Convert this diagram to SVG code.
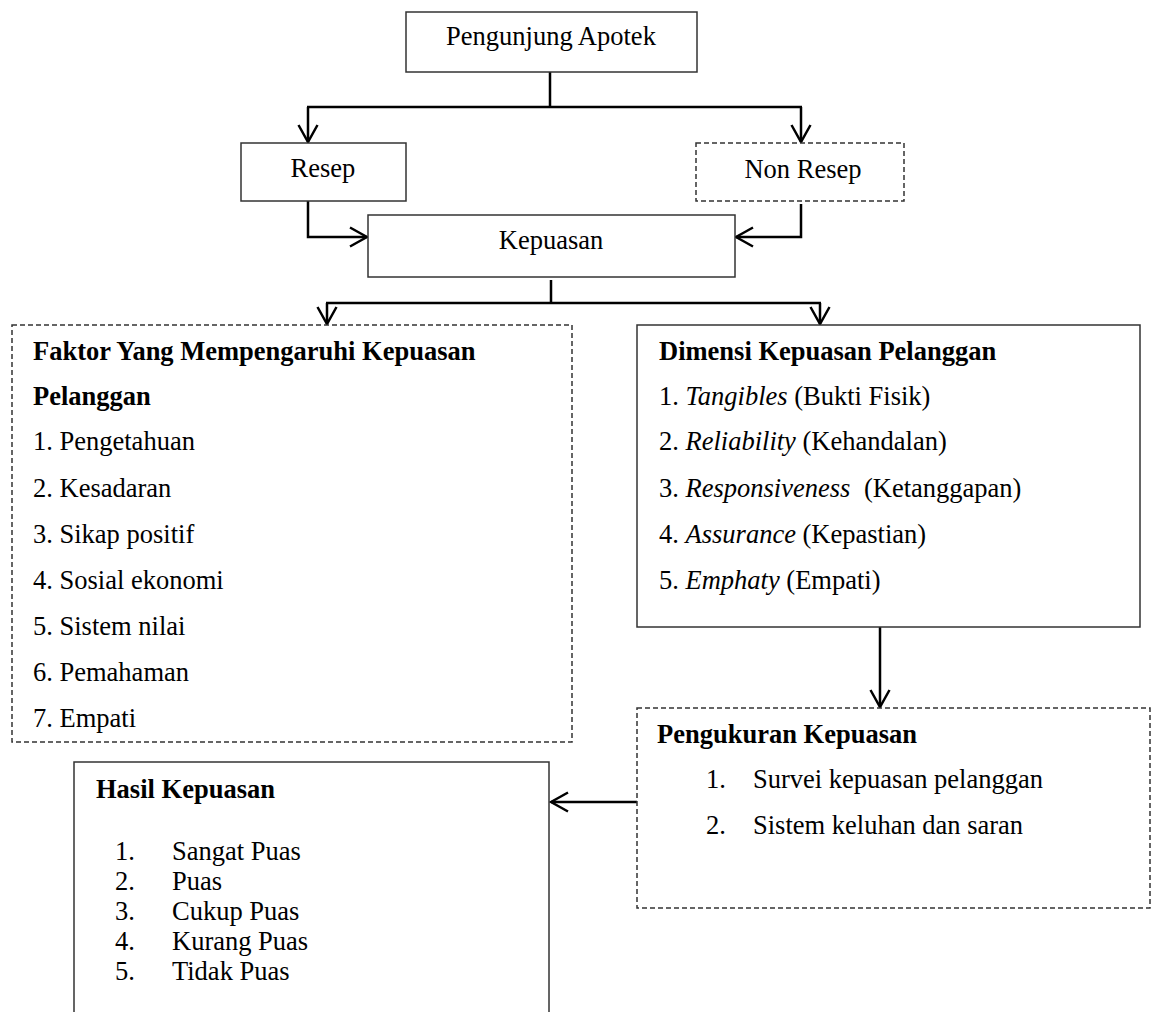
<svg xmlns="http://www.w3.org/2000/svg" width="1158" height="1012" viewBox="0 0 1158 1012">
<defs>
<style>
.box{fill:#fff;stroke:#333;stroke-width:1.5}
.dash{fill:#fff;stroke:#333;stroke-width:1.5;stroke-dasharray:5,3}
.conn{fill:none;stroke:#000;stroke-width:2.5}
text{font-family:"Liberation Serif","Times New Roman",serif;font-size:26.5px;fill:#000}
.c{text-anchor:middle}
.b{font-weight:bold}
.i{font-style:italic}
</style>
<marker id="arr" viewBox="-20 -12 22 24" markerWidth="22" markerHeight="24" refX="0" refY="0" markerUnits="userSpaceOnUse" orient="auto">
<path d="M-17,-9.5 L0,0 L-17,9.5" fill="none" stroke="#000" stroke-width="2.5"/>
</marker>
</defs>
<rect width="1158" height="1012" fill="#fff"/>
<g id="connectors">
<path class="conn" d="M550,72 V107 M307,107 H802"/>
<path class="conn" d="M308,107 V142" marker-end="url(#arr)"/>
<path class="conn" d="M801,107 V142" marker-end="url(#arr)"/>
<path class="conn" d="M308,201 V237 H367" marker-end="url(#arr)"/>
<path class="conn" d="M801,204 V237 H736" marker-end="url(#arr)"/>
<path class="conn" d="M551,280 V303 M326,303 H821"/>
<path class="conn" d="M327,303 V324" marker-end="url(#arr)"/>
<path class="conn" d="M820,303 V324" marker-end="url(#arr)"/>
<path class="conn" d="M880,627 V707" marker-end="url(#arr)"/>
<path class="conn" d="M637,802 H551" marker-end="url(#arr)"/>
</g>
<g id="pengunjung">
<rect class="box" x="406" y="12" width="291" height="60"/>
<text class="c" x="551" y="45">Pengunjung Apotek</text>
</g>
<g id="resep">
<rect class="box" x="241" y="143" width="165" height="58"/>
<text class="c" x="323" y="177">Resep</text>
</g>
<g id="nonresep">
<rect class="dash" x="696" y="143" width="208" height="58"/>
<text class="c" x="803" y="178">Non Resep</text>
</g>
<g id="kepuasan">
<rect class="box" x="368" y="215" width="367" height="62"/>
<text class="c" x="551" y="249">Kepuasan</text>
</g>
<g id="faktor">
<rect class="dash" x="12" y="325" width="560" height="417"/>
<text class="b" x="33" y="360">Faktor Yang Mempengaruhi Kepuasan</text>
<text class="b" x="33" y="405">Pelanggan</text>
<text x="33" y="450">1. Pengetahuan</text>
<text x="33" y="497">2. Kesadaran</text>
<text x="33" y="543">3. Sikap positif</text>
<text x="33" y="589">4. Sosial ekonomi</text>
<text x="33" y="635">5. Sistem nilai</text>
<text x="33" y="681">6. Pemahaman</text>
<text x="33" y="727">7. Empati</text>
</g>
<g id="dimensi">
<rect class="box" x="637" y="325" width="503" height="302"/>
<text class="b" x="659" y="360">Dimensi Kepuasan Pelanggan</text>
<text x="659" y="405">1. <tspan class="i">Tangibles</tspan> (Bukti Fisik)</text>
<text x="659" y="450">2. <tspan class="i">Reliability</tspan> (Kehandalan)</text>
<text x="659" y="497">3. <tspan class="i">Responsiveness</tspan><tspan dx="7"> (Ketanggapan)</tspan></text>
<text x="659" y="543">4. <tspan class="i">Assurance</tspan> (Kepastian)</text>
<text x="659" y="589">5. <tspan class="i">Emphaty</tspan> (Empati)</text>
</g>
<g id="pengukuran">
<rect class="dash" x="637" y="708" width="513" height="200"/>
<text class="b" x="657" y="743">Pengukuran Kepuasan</text>
<text x="706" y="788">1.</text>
<text x="753" y="788">Survei kepuasan pelanggan</text>
<text x="706" y="834">2.</text>
<text x="753" y="834">Sistem keluhan dan saran</text>
</g>
<g id="hasil">
<rect class="box" x="74" y="762" width="475" height="270"/>
<text class="b" x="96" y="798">Hasil Kepuasan</text>
<text x="115" y="860">1.</text>
<text x="172" y="860">Sangat Puas</text>
<text x="115" y="890">2.</text>
<text x="172" y="890">Puas</text>
<text x="115" y="920">3.</text>
<text x="172" y="920">Cukup Puas</text>
<text x="115" y="950">4.</text>
<text x="172" y="950">Kurang Puas</text>
<text x="115" y="980">5.</text>
<text x="172" y="980">Tidak Puas</text>
</g>
</svg>
